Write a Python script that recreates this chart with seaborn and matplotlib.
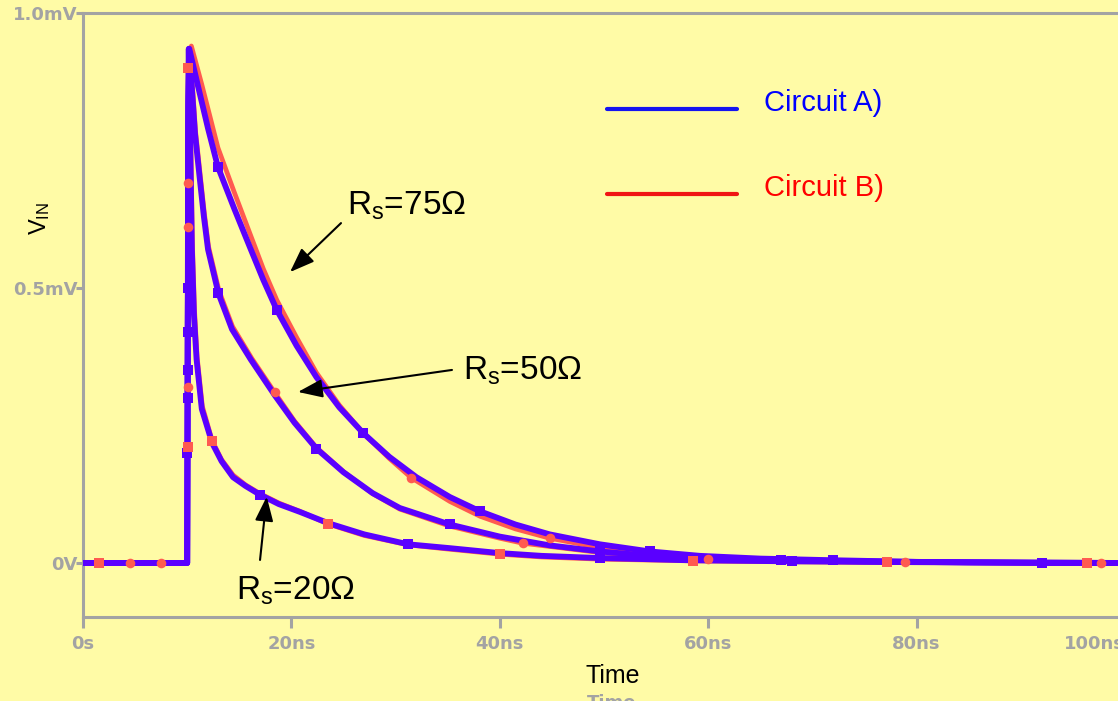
import matplotlib
matplotlib.use("Agg")
import matplotlib.pyplot as plt
from matplotlib.lines import Line2D
import seaborn as sns

# ---- transient traces (time in ns, V_IN in mV) ----
# Circuit A)
t_a20 = [0, 10.0, 10.02, 10.04, 10.06, 10.09, 10.15, 10.3, 10.45, 10.65, 10.9, 11.4, 12.4, 13.3,
         14.4, 15.6, 17.0, 18.8, 20.8, 23.6, 27.0, 31.2, 35.2, 40.0, 44.0, 49.6, 54.0, 58.0, 63.0,
         68.0, 75.0, 85.0, 92.0, 100.0]
v_a20 = [0, 0, 0.2, 0.42, 0.5, 0.84, 0.935, 0.75, 0.57, 0.45, 0.37, 0.28, 0.218, 0.185,
         0.156, 0.14, 0.124, 0.107, 0.093, 0.072, 0.052, 0.034, 0.027, 0.018, 0.013, 0.009, 0.007,
         0.005, 0.004, 0.003, 0.002, 0.001, 0.0, 0.0]

t_a50 = [0, 10.0, 10.05, 10.1, 10.2, 10.5, 10.75, 11.2, 11.6, 12.0, 13.0, 14.3, 16.1, 18.4, 20.3,
         22.4, 25.0, 27.8, 30.4, 35.2, 40.0, 44.8, 49.6, 54.4, 60.0, 67.0, 75.0, 85.0, 100.0]
v_a50 = [0, 0, 0.35, 0.75, 0.93, 0.85, 0.78, 0.70, 0.63, 0.57, 0.49, 0.425, 0.37, 0.305, 0.255,
         0.208, 0.165, 0.127, 0.100, 0.070, 0.048, 0.032, 0.021, 0.013, 0.008, 0.005, 0.003, 0.001, 0.0]

t_a75 = [0, 10.0, 10.05, 10.1, 10.2, 10.9, 12.0, 12.95, 14.5, 16.0, 17.3, 18.6, 20.5, 22.4, 24.6,
         26.9, 29.4, 32.0, 35.2, 38.1, 41.5, 44.8, 49.6, 54.4, 59.2, 65.0, 72.0, 80.0, 90.0, 100.0]
v_a75 = [0, 0, 0.3, 0.8, 0.935, 0.878, 0.79, 0.72, 0.645, 0.575, 0.515, 0.46, 0.395, 0.338, 0.283,
         0.236, 0.193, 0.156, 0.12, 0.094, 0.07, 0.052, 0.034, 0.021, 0.013, 0.008, 0.005, 0.002, 0.001, 0.0]

# Circuit B)
t_b20 = [0, 1.5, 10.0, 10.03, 10.06, 10.1, 10.2, 10.35, 10.5, 10.7, 10.95, 11.45, 12.4, 13.3, 14.4,
         15.6, 17.0, 18.8, 20.8, 23.5, 27.0, 31.2, 35.2, 40.0, 44.0, 49.6, 58.5, 63.0, 70.0, 77.2,
         96.4, 100.0]
v_b20 = [0, 0, 0, 0.21, 0.5, 0.9, 0.935, 0.76, 0.58, 0.46, 0.375, 0.285, 0.222, 0.188, 0.16,
         0.142, 0.126, 0.109, 0.094, 0.071, 0.05, 0.033, 0.025, 0.016, 0.011, 0.007, 0.004, 0.003,
         0.002, 0.001, 0.0, 0.0]

t_b50 = [0, 4.5, 10.0, 10.04, 10.08, 10.12, 10.25, 10.55, 10.8, 11.25, 11.65, 12.05, 13.05, 14.35,
         16.2, 18.4, 20.3, 22.4, 25.0, 27.8, 30.4, 35.2, 40.0, 42.2, 49.6, 54.4, 60.0, 67.0, 78.9,
         85.0, 97.7, 100.0]
v_b50 = [0, 0, 0, 0.32, 0.68, 0.9, 0.93, 0.855, 0.785, 0.705, 0.635, 0.575, 0.495, 0.43,
         0.372, 0.31, 0.258, 0.21, 0.166, 0.126, 0.098, 0.067, 0.045, 0.036, 0.019, 0.012, 0.007,
         0.005, 0.002, 0.001, 0.0, 0.0]

t_b75 = [0, 7.5, 10.0, 10.05, 10.1, 10.2, 10.4, 11.4, 12.95, 14.5, 16.0, 17.3, 18.6, 20.5, 22.4,
         24.6, 26.9, 29.4, 31.5, 35.2, 38.1, 41.5, 44.8, 49.6, 54.4, 59.2, 65.0, 72.0, 80.0, 90.0, 100.0]
v_b75 = [0, 0, 0, 0.61, 0.69, 0.9, 0.94, 0.87, 0.755, 0.675, 0.6, 0.535, 0.478, 0.41, 0.346,
         0.287, 0.236, 0.19, 0.155, 0.112, 0.085, 0.062, 0.045, 0.028, 0.017, 0.010, 0.006, 0.004,
         0.002, 0.001, 0.0]

# marker positions (indices into each trace)
mk_a20 = [2, 3, 4, 16, 21, 25, 29, 32]
mk_a50 = [2, 10, 15, 19, 22, 25]
mk_a75 = [2, 7, 11, 15, 19, 23, 26]
mk_b20 = [1, 3, 5, 12, 19, 23, 26, 29, 30]
mk_b50 = [1, 3, 15, 23, 26, 28, 30]
mk_b75 = [1, 3, 4, 18, 22]

x_ticks = [0, 20, 40, 60, 80, 100]
x_labels = ["0s", "20ns", "40ns", "60ns", "80ns", "100ns"]
y_ticks = [0, 0.5, 1.0]
y_labels = ["0V", "0.5mV", "1.0mV"]

BG = "#FFFBA6"
AXC = "#A3A3A3"
TRACE_A = "#5A00FF"
TRACE_B = "#FF5A50"

sns.set_theme(style="white")
plt.rcParams["font.family"] = ["Liberation Sans", "DejaVu Sans"]
plt.rcParams["mathtext.fontset"] = "custom"
plt.rcParams["mathtext.rm"] = "Liberation Sans"
plt.rcParams["mathtext.it"] = "Liberation Sans:italic"
plt.rcParams["text.color"] = "black"

W, H = 1118, 701
fig = plt.figure(figsize=(W / 100, H / 100), dpi=100, facecolor=BG)
ax = fig.add_axes([83 / W, (H - 617) / H, (1125 - 83) / W, (617 - 13) / H])
ax.set_facecolor(BG)


def trace(t, v, color, lw, marker, mk, z, marker_z):
    sns.lineplot(x=t, y=v, ax=ax, estimator=None, sort=False, color=color,
                 linewidth=lw, legend=False, zorder=z)
    sns.scatterplot(x=[t[i] for i in mk], y=[v[i] for i in mk], ax=ax, color=color,
                    marker=marker, s=48, linewidth=0, legend=False, zorder=marker_z)


trace(t_b20, v_b20, TRACE_B, 3.4, "s", mk_b20, 3, 6)
trace(t_b50, v_b50, TRACE_B, 3.4, "o", mk_b50, 3, 6)
trace(t_b75, v_b75, TRACE_B, 3.4, "o", mk_b75, 3, 6)
trace(t_a20, v_a20, TRACE_A, 4.2, "s", mk_a20, 4, 5)
trace(t_a50, v_a50, TRACE_A, 4.2, "s", mk_a50, 4, 5)
trace(t_a75, v_a75, TRACE_A, 4.2, "s", mk_a75, 4, 5)

ax.set_xlim(0, 100)
ax.set_ylim(-0.0982, 1.0)
ax.set_xlabel("")
ax.set_ylabel("")

for side in ["left", "top", "bottom"]:
    ax.spines[side].set_visible(True)
    ax.spines[side].set_color(AXC)
    ax.spines[side].set_linewidth(2.2)
ax.spines["right"].set_visible(False)

ax.set_xticks(x_ticks)
ax.set_xticklabels(x_labels)
ax.set_yticks(y_ticks)
ax.set_yticklabels(y_labels)
ax.tick_params(axis="x", direction="out", length=8, width=2.2, color=AXC,
               labelcolor=AXC, labelsize=13, pad=5, bottom=True)
ax.tick_params(axis="y", direction="out", length=5, width=2.2, color=AXC,
               labelcolor=AXC, labelsize=13, pad=-1, left=True)
for lab in ax.get_xticklabels() + ax.get_yticklabels():
    lab.set_fontfamily("DejaVu Sans")
    lab.set_fontweight("bold")
ax.get_xticklabels()[-1].set_horizontalalignment("right")
ax.grid(False)

# axis titles
fig.text(40 / W, 1 - 218 / H, r"V$_\mathregular{IN}$", rotation=90, ha="center",
         va="center", fontsize=17, color="black")
fig.text(613 / W, 1 - 676 / H, "Time", ha="center", va="center", fontsize=18, color="black")
fig.text(612 / W, 1 - 694 / H, "Time", ha="center", va="top", fontsize=13,
         color=AXC, fontweight="bold", family="DejaVu Sans")

# legend
for yy, col, name in [(109, "#1414F0", "Circuit A)"), (194, "#F01414", "Circuit B)")]:
    fig.add_artist(Line2D([607 / W, 737 / W], [1 - yy / H] * 2, transform=fig.transFigure,
                          color=col, lw=3))
    fig.text(764 / W, 1 - (yy - 6) / H, name, ha="left", va="center", fontsize=21,
             color="#0000FF" if "A" in name else "#FF0000")

# resistor annotations
arrow = dict(arrowstyle="-|>,head_length=0.75,head_width=0.28", color="black", lw=1.5,
             shrinkA=0, shrinkB=0, mutation_scale=20)
ax.annotate("", xy=(19.87, 0.529), xytext=(24.76, 0.618), arrowprops=arrow, zorder=7)
ax.annotate("", xy=(20.63, 0.311), xytext=(35.41, 0.351), arrowprops=arrow, zorder=7)
ax.annotate("", xy=(17.63, 0.1206), xytext=(16.99, 0.0055), arrowprops=arrow, zorder=7)
ax.text(25.3, 0.633, r"R$_\mathregular{s}$=75Ω", fontsize=24, ha="left", va="baseline", color="black")
ax.text(36.47, 0.333, r"R$_\mathregular{s}$=50Ω", fontsize=24, ha="left", va="baseline", color="black")
ax.text(14.68, -0.067, r"R$_\mathregular{s}$=20Ω", fontsize=24, ha="left", va="baseline", color="black")

fig.savefig("out.png", dpi=100, facecolor=BG)
